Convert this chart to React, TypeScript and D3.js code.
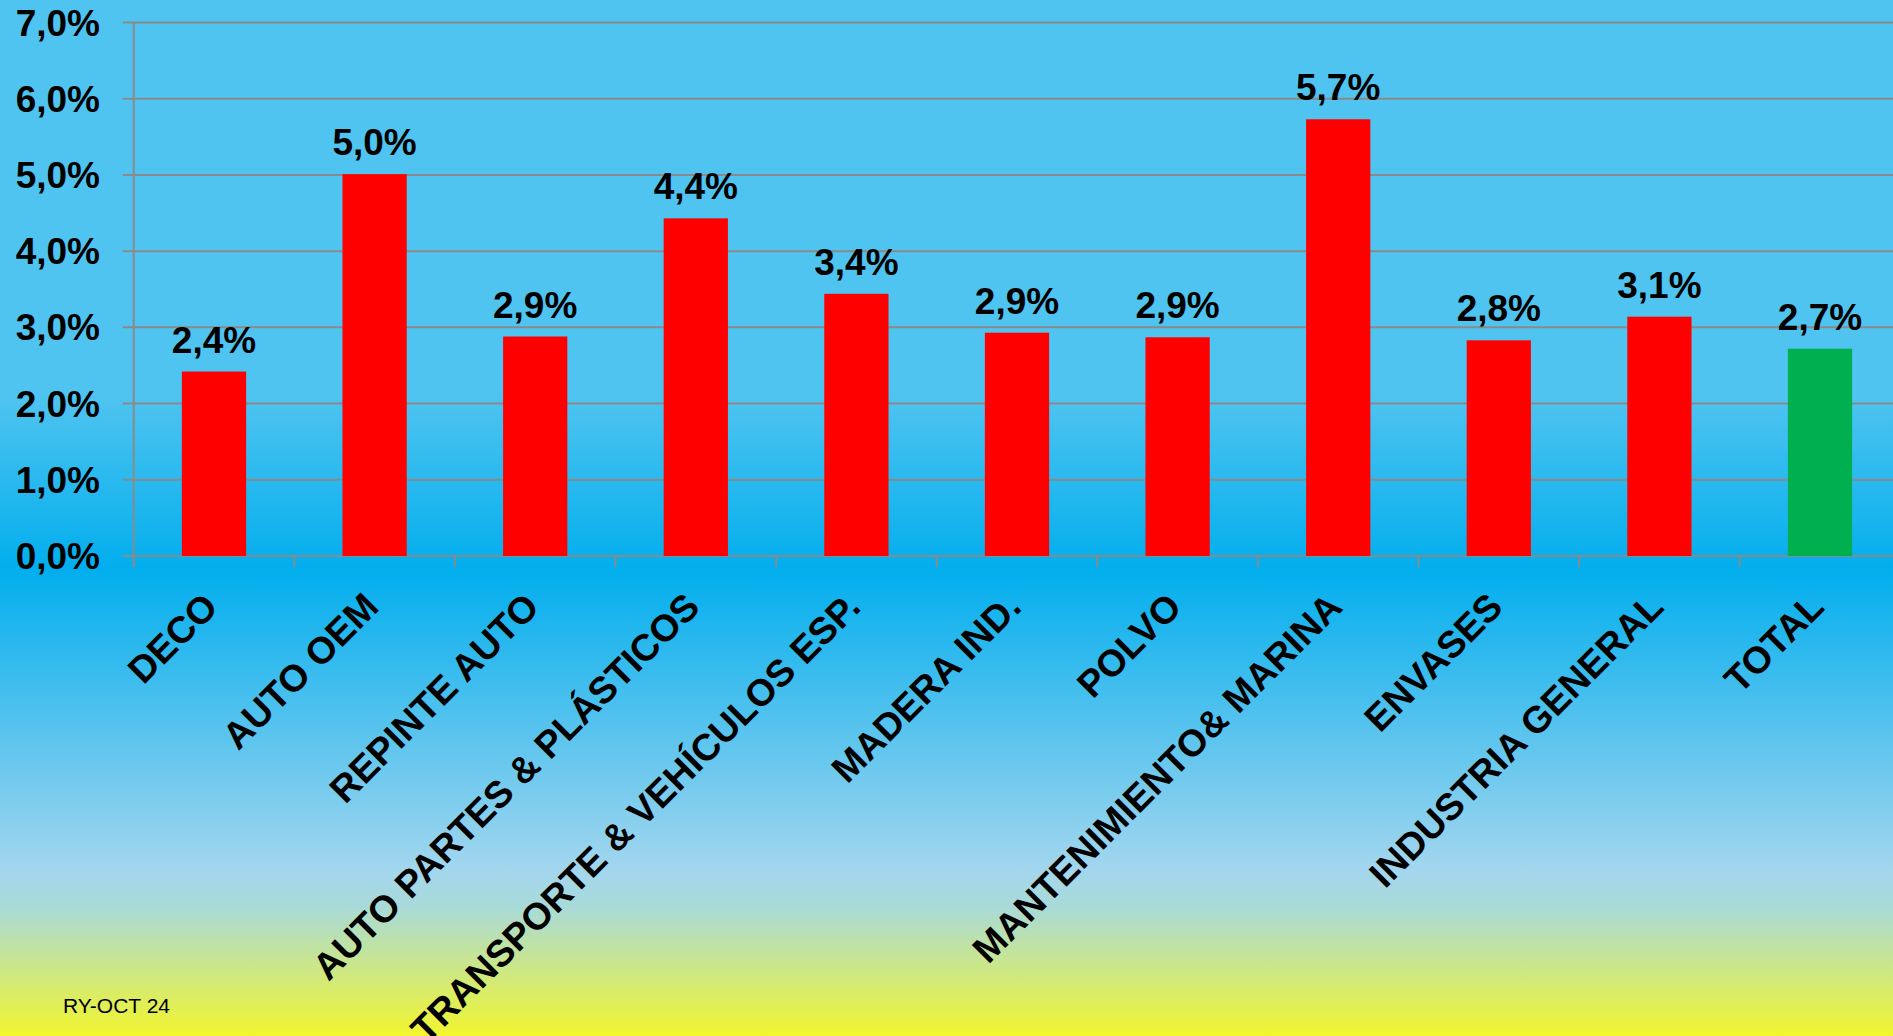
import React, { useEffect, useMemo } from 'react';
import * as d3 from 'd3';

const categories = [
  'DECO',
  'AUTO OEM',
  'REPINTE AUTO',
  'AUTO PARTES & PLÁSTICOS',
  'TRANSPORTE & VEHÍCULOS ESP.',
  'MADERA IND.',
  'POLVO',
  'MANTENIMIENTO& MARINA',
  'ENVASES',
  'INDUSTRIA GENERAL',
  'TOTAL',
];
const growth = [2.42, 5.01, 2.88, 4.43, 3.44, 2.93, 2.87, 5.73, 2.83, 3.14, 2.72];
const barColors = ['#FF0000', '#FF0000', '#FF0000', '#FF0000', '#FF0000', '#FF0000', '#FF0000', '#FF0000', '#FF0000', '#FF0000', '#00B050'];
const yTicks = [0, 1, 2, 3, 4, 5, 6, 7];
const footnote = 'RY-OCT 24';

const W = 1893;
const H = 1036;
const FONT = '"Liberation Sans", Arial, sans-serif';

const fmt = (v: number) => v.toFixed(1).replace('.', ',') + '%';

const App: React.FC = () => {
  useEffect(() => {
    document.body.style.margin = '0';
  }, []);

  const margin = { top: 22.5, left: 133.7, right: 1900.3, bottom: 556 };

  const x = useMemo(
    () =>
      d3.scaleBand<string>()
        .domain(categories)
        .range([margin.left, margin.right])
        .paddingInner(0.6)
        .paddingOuter(0.3),
    []
  );
  const y = useMemo(() => d3.scaleLinear().domain([0, 7]).range([margin.bottom, margin.top]), []);

  const step = x.step();
  const bw = x.bandwidth();
  const boundaries = d3.range(categories.length + 1).map(i => margin.left + i * step);
  const grid = '#8A8A8A';

  return (
    <svg width={W} height={H} style={{ display: 'block' }} fontFamily={FONT}>
      <defs>
        <linearGradient id="bg" x1="0" y1="0" x2="0" y2="1">
          <stop offset="0" stopColor="#50C4F0" />
          <stop offset="0.38" stopColor="#50C4F0" />
          <stop offset="0.55" stopColor="#02AEEE" />
          <stop offset="0.84" stopColor="#A3D6EE" />
          <stop offset="0.875" stopColor="#A9DAD9" />
          <stop offset="1" stopColor="#F2F52E" />
        </linearGradient>
      </defs>
      <rect x={0} y={0} width={W} height={H} fill="url(#bg)" />

      {/* horizontal grid */}
      {yTicks.map(t => (
        <line key={'g' + t} x1={margin.left - 11} x2={W} y1={y(t)} y2={y(t)} stroke={grid} strokeWidth={2} />
      ))}
      {/* y axis line */}
      <line x1={margin.left} x2={margin.left} y1={y(7)} y2={margin.bottom + 11} stroke={grid} strokeWidth={2} />
      {/* x ticks */}
      {boundaries.map((bx, i) => (
        <line key={'t' + i} x1={bx} x2={bx} y1={margin.bottom} y2={margin.bottom + 11} stroke={grid} strokeWidth={2} />
      ))}

      {/* y tick labels */}
      {yTicks.map(t => (
        <text key={'yl' + t} x={100} y={y(t) + 13} textAnchor="end" fontSize={37} fontWeight="bold" fill="#000">
          {fmt(t)}
        </text>
      ))}

      {/* bars */}
      {categories.map((c, i) => (
        <rect
          key={'b' + c}
          x={x(c)!}
          y={y(growth[i])}
          width={bw}
          height={y(0) - y(growth[i])}
          fill={barColors[i]}
        />
      ))}

      {/* value labels */}
      {categories.map((c, i) => (
        <text
          key={'v' + c}
          x={x(c)! + bw / 2}
          y={y(growth[i]) - 19}
          textAnchor="middle"
          fontSize={37}
          fontWeight="bold"
          fill="#000"
        >
          {fmt(growth[i])}
        </text>
      ))}

      {/* category labels */}
      {categories.map(c => {
        const cx = x(c)! + bw / 2 + 6;
        const cy = margin.bottom + 53;
        return (
          <text
            key={'c' + c}
            transform={`translate(${cx},${cy}) rotate(-45)`}
            textAnchor="end"
            fontSize={37.5}
            fontWeight="bold"
            fill="#000"
          >
            {c}
          </text>
        );
      })}

      <text x={63} y={1013} fontSize={21} fill="#000">
        {footnote}
      </text>
    </svg>
  );
};

export default App;
